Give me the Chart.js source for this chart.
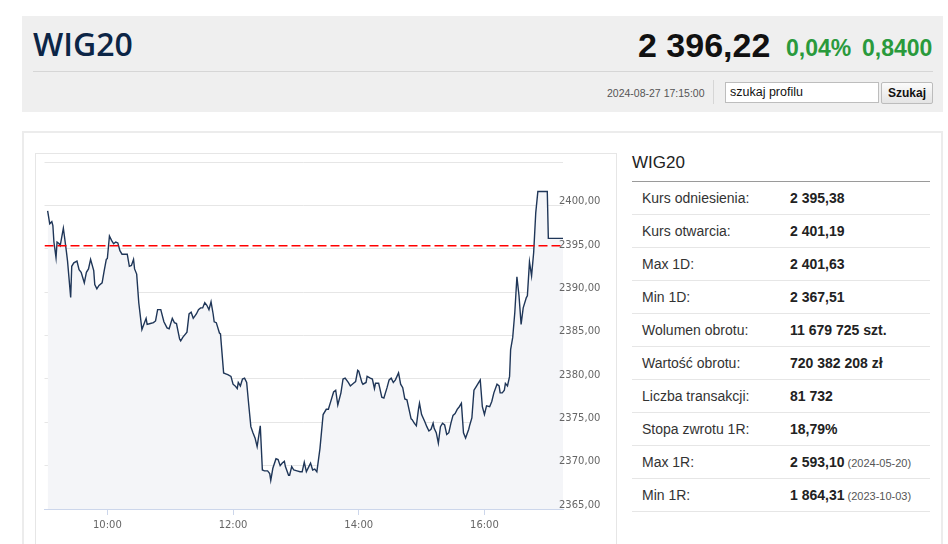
<!DOCTYPE html>
<html>
<head>
<meta charset="utf-8">
<script src="https://cdn.jsdelivr.net/npm/chart.js@4.4.1/dist/chart.umd.min.js"></script>
<style>
  html, body { margin:0; padding:0; background:#fff; width:948px; height:544px; overflow:hidden; font-family:"Liberation Sans", Arial, sans-serif; }
  .abs { position:absolute; white-space:nowrap; }
  #hdr { left:22px; top:16px; width:921px; height:96px; background:#efefef; }
  #title { left:33px; top:28px; font-family:"Open Sans", sans-serif; font-weight:600; font-size:32px; line-height:32px; color:#0c2546; }
  #price { left:638px; top:28px; font-weight:bold; font-size:34px; line-height:34px; color:#111; }
  .green { font-weight:bold; font-size:23px; line-height:23px; color:#2a9a3c; top:37px; }
  #hline { left:33px; top:71px; width:900px; height:1px; background:#d6d6d6; }
  #date { left:607px; top:88px; font-size:10.5px; line-height:11px; color:#555; }
  #vdiv { left:713px; top:80px; width:1px; height:24px; background:#d6d6d6; }
  #search { left:725px; top:82px; width:148px; height:19px; background:#fff; border:1px solid #bdbdbd; font-size:12.5px; line-height:19px; padding-left:4px; box-sizing:content-box; color:#111; }
  #btn { left:881px; top:82px; width:50px; height:20px; border:1px solid #bcbcbc; border-radius:2px; background:linear-gradient(#fbfbfb,#e4e4e4); font-size:12px; font-weight:bold; line-height:20px; text-align:center; color:#111; }
  #panel { left:22px; top:131px; width:917px; height:430px; border:2px solid #ececec; }
  #cbox { left:35px; top:153px; width:580px; height:400px; border:1px solid #e6e6e6; }
  #rtitle { left:632px; top:154px; font-size:17px; line-height:17px; color:#222; }
  #rline { left:632px; top:181px; width:298px; height:1px; background:#9a9a9a; }
  .row { position:absolute; left:632px; width:298px; height:32px; border-bottom:1px solid #e6e6e6; }
  .lab { position:absolute; left:10px; top:0; font-size:14px; line-height:32px; color:#333; white-space:nowrap; }
  .val { position:absolute; left:158px; top:0; font-size:14px; line-height:32px; font-weight:bold; color:#222; white-space:nowrap; }
  .val small { font-size:11px; font-weight:normal; color:#555; }
  #cwrap { position:absolute; left:36px; top:154px; width:579px; height:390px; }
</style>
</head>
<body>
<div class="abs" id="hdr"></div>
<div class="abs" id="title">WIG20</div>
<div class="abs" id="price">2 396,22</div>
<div class="abs green" style="left:786px">0,04%</div>
<div class="abs green" style="left:862px">0,8400</div>
<div class="abs" id="hline"></div>
<div class="abs" id="date">2024-08-27 17:15:00</div>
<div class="abs" id="vdiv"></div>
<div class="abs" id="search">szukaj profilu</div>
<div class="abs" id="btn">Szukaj</div>
<div class="abs" id="panel"></div>
<div class="abs" id="cbox"></div>
<div id="cwrap"><canvas id="c" width="579" height="390" style="width:579px;height:390px"></canvas></div>
<div class="abs" id="rtitle">WIG20</div>
<div class="abs" id="rline"></div>
<div id="table"></div>
<script>
// Minutes since 09:00
const times = [3,5,7,8,9,11,12,14,15,18,19,21,22,25,26,28,31,33,35,38,40,42,44,47,48,50,52,55,57,59,60,62,64,66,68,70,72,74,76,79,81,83,85,86,88,90,93,97,98,101,104,106,108,111,114,117,119,122,124,126,129,130,132,136,138,140,142,145,147,149,151,153,155,157,159,161,162,164,167,168,171,173,175,178,180,182,184,185,187,189,191,193,195,197,199,201,203,204,206,208,210,213,215,216,218,221,223,225,227,229,230,233,234,236,238,241,244,246,248,250,252,254,256,258,260,263,266,269,271,273,276,278,280,283,285,287,290,292,295,297,299,300,303,304,307,308,311,313,315,316,319,320,322,324,327,329,331,333,335,338,340,342,344,346,348,350,351,353,355,357,358,360,363,365,367,369,371,372,374,376,378,380,382,384,386,388,390,392,394,396,398,400,402,405,406,408,410,412,414,416,418,420,422,425,427,429,432,434,435,437,439,440,442,444,445,447,449,451,453,455,457,460,461,463,465,467,469,471,480,481,495];
const values = [2399.4,2397.9,2398.15,2397.7,2395.8,2394.0,2395.8,2395.6,2395.4,2397.4,2396.5,2394.6,2393.6,2389.4,2393.0,2393.4,2393.6,2392.6,2392.3,2391.1,2392.3,2392.7,2393.8,2392.5,2390.9,2390.4,2390.8,2391.1,2392.5,2393.8,2393.9,2396.5,2396.0,2395.6,2395.8,2395.7,2394.8,2394.4,2394.4,2394.4,2393.0,2393.1,2393.8,2392.7,2392.1,2388.8,2385.7,2387.0,2386.3,2386.4,2386.5,2386.7,2388.0,2388.0,2386.6,2385.9,2385.8,2387.0,2386.5,2386.4,2384.6,2384.4,2384.8,2385.4,2387.5,2387.7,2387.0,2387.5,2388.0,2388.2,2388.2,2388.8,2388.5,2388.0,2388.9,2387.5,2386.6,2386.5,2385.3,2385.2,2380.7,2380.6,2380.5,2380.3,2379.4,2379.2,2378.9,2379.6,2379.2,2380.0,2380.1,2379.6,2377.0,2374.5,2373.8,2373.2,2372.2,2373.0,2374.6,2369.5,2369.4,2369.4,2369.1,2368.3,2369.7,2370.8,2370.7,2370.0,2370.3,2370.5,2369.9,2368.9,2368.9,2369.9,2369.5,2369.4,2369.3,2369.3,2370.4,2369.3,2369.8,2370.3,2369.5,2369.6,2369.3,2372.0,2375.9,2376.5,2376.5,2377.3,2378.5,2378.7,2377.0,2378.4,2380.0,2380.1,2379.6,2379.2,2379.5,2379.7,2381.0,2380.9,2379.6,2379.4,2379.6,2380.3,2380.1,2380.0,2378.9,2379.5,2379.5,2379.0,2377.9,2377.8,2379.0,2379.9,2380.1,2379.6,2379.9,2380.7,2379.4,2379.0,2377.7,2377.6,2376.5,2375.4,2375.3,2374.9,2374.6,2376.5,2377.2,2375.9,2375.1,2374.5,2374.0,2374.2,2374.9,2374.3,2373.8,2372.6,2374.5,2374.9,2374.7,2373.6,2373.8,2374.9,2375.8,2376.0,2376.5,2376.8,2377.2,2373.8,2373.2,2374.2,2374.7,2375.5,2378.7,2379.1,2379.5,2379.9,2376.8,2375.9,2376.9,2376.8,2377.4,2378.4,2379.4,2379.2,2378.4,2378.4,2378.7,2379.5,2379.2,2380.3,2383.4,2384.8,2387.7,2391.8,2389.6,2386.3,2388.2,2389.4,2389.6,2393.5,2391.9,2394.6,2399.2,2401.63,2401.63,2396.22,2396.22];
const referencePrice = 2395.38;
const xTickMinutes = [60, 180, 300, 420];
const xTickLabels = ["10:00", "12:00", "14:00", "16:00"];
const yMin = 2365, yMax = 2405, yStep = 5;

const tableLabels = ["Kurs odniesienia:","Kurs otwarcia:","Max 1D:","Min 1D:","Wolumen obrotu:","Wartość obrotu:","Liczba transakcji:","Stopa zwrotu 1R:","Max 1R:","Min 1R:"];
const tableValues = ["2 395,38","2 401,19","2 401,63","2 367,51","11 679 725 szt.","720 382 208 zł","81 732","18,79%","2 593,10","1 864,31"];
const tableDates = ["","","","","","","","","(2024-05-20)","(2023-10-03)"];

const tbl = document.getElementById('table');
tableLabels.forEach((l, i) => {
  const r = document.createElement('div');
  r.className = 'row';
  r.style.top = (182 + 33 * i) + 'px';
  const a = document.createElement('div'); a.className = 'lab'; a.textContent = l;
  const b = document.createElement('div'); b.className = 'val'; b.textContent = tableValues[i];
  if (tableDates[i]) { const s = document.createElement('small'); s.textContent = ' ' + tableDates[i]; b.appendChild(s); }
  r.appendChild(a); r.appendChild(b); tbl.appendChild(r);
});

// Linear scale whose tick labels may overlap the plot edge (not clipped)
class OverlapLinearScale extends Chart.LinearScale {
  _computeLabelArea() { return undefined; }
}
OverlapLinearScale.id = 'overlapLinear';
OverlapLinearScale.defaults = Chart.LinearScale.defaults;
Chart.register(OverlapLinearScale);

const tickFont = { family: "DejaVu Sans", size: 10 };
new Chart(document.getElementById('c'), {
  type: 'line',
  data: {
    datasets: [
      {
        data: [{x: 0, y: referencePrice}, {x: 495, y: referencePrice}],
        borderColor: '#ff0000', borderWidth: 1.4, borderDash: [9, 4],
        pointRadius: 0, fill: false, order: 0
      },
      {
        data: times.map((t, i) => ({x: t, y: values[i]})),
        borderColor: '#1f3658', borderWidth: 1.4, pointRadius: 0, tension: 0,
        fill: 'start', backgroundColor: '#f4f5f8', order: 1
      }
    ]
  },
  options: {
    responsive: false, animation: false,
    layout: { padding: { left: 8.5, top: 8.3, right: 0, bottom: 0 } },
    plugins: { legend: { display: false }, tooltip: { enabled: false } },
    scales: {
      x: {
        type: 'linear', min: 0, max: 495,
        afterBuildTicks: s => { s.ticks = xTickMinutes.map(v => ({ value: v })); },
        afterFit: s => { s.height = 35; },
        ticks: {
          font: tickFont, color: '#666', padding: 4, maxRotation: 0,
          callback: v => { const k = xTickMinutes.indexOf(v); return k >= 0 ? xTickLabels[k] : ''; }
        },
        grid: { drawOnChartArea: false, drawTicks: true, tickLength: 6, color: '#ccd6eb' },
        border: { display: true, color: '#ccd6eb', width: 1 }
      },
      y: {
        type: 'overlapLinear',
        position: 'right', min: yMin, max: yMax,
        afterFit: s => { s.width = 52; },
        ticks: {
          z: 1,
          stepSize: yStep, font: tickFont, color: '#666', padding: -4, labelOffset: -4,
          callback: v => v >= yMax ? '' : v.toFixed(2).replace('.', ',')
        },
        grid: { color: '#e6e6e6', drawTicks: false },
        border: { display: false }
      }
    }
  }
});
</script>
</body>
</html>
